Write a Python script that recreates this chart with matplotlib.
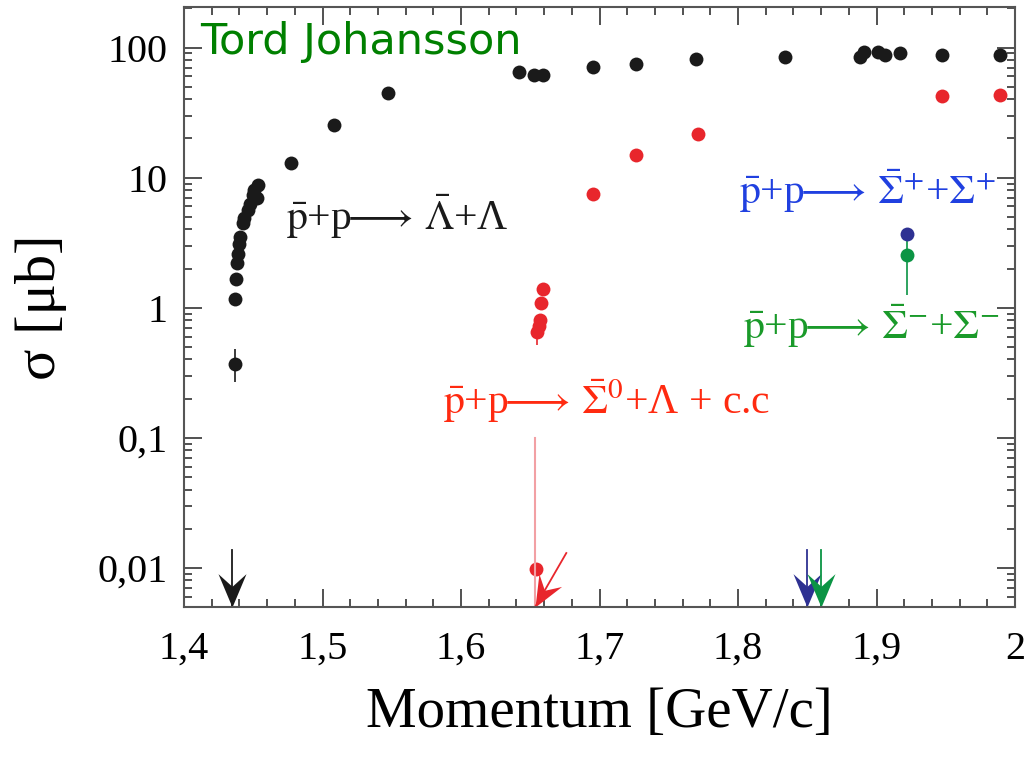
import numpy as np
import matplotlib.pyplot as plt
from matplotlib.ticker import LogLocator, MultipleLocator, FuncFormatter, NullFormatter

plt.rcParams['font.family'] = ['Liberation Serif', 'DejaVu Sans']
plt.rcParams['mathtext.fontset'] = 'stix'

# p-bar p -> Lambda-bar Lambda (black)
lam_x = [1.4367, 1.4367, 1.4374, 1.4381, 1.4388, 1.4395, 1.4403, 1.4424, 1.4431, 1.4460,
         1.4474, 1.4496, 1.4504, 1.4532, 1.4525, 1.4770, 1.5080, 1.5470, 1.6420, 1.6530,
         1.6590, 1.6950, 1.7260, 1.7700, 1.8340, 1.8880, 1.8910, 1.9010, 1.9060, 1.9170,
         1.9470, 1.9890]
lam_y = [0.37, 1.17, 1.65, 2.2, 2.6, 3.1, 3.5, 4.5, 4.9, 5.6,
         6.3, 7.3, 8.1, 8.8, 7.0, 13.0, 25.5, 45.0, 65.0, 62.0,
         61.0, 71.0, 75.0, 82.0, 84.0, 84.0, 93.0, 92.0, 87.0, 90.0,
         87.0, 88.0]

# p-bar p -> Sigma0-bar Lambda + c.c. (red)
sig0_x = [1.6540, 1.6550, 1.6560, 1.6570, 1.6580, 1.6590, 1.6950, 1.7260, 1.7710, 1.9470, 1.9890]
sig0_y = [0.0098, 0.65, 0.72, 0.80, 1.09, 1.40, 7.5, 14.8, 21.8, 42.7, 43.5]

# p-bar p -> Sigma+-bar Sigma+ (blue), Sigma- (green)
sigp_x, sigp_y = [1.922], [3.7]
sigm_x, sigm_y = [1.922], [2.55]
sigm_err_lo, sigm_err_hi = [1.3], [1.1]

# reaction thresholds (arrows)
thr_x = [1.4345, 1.6535, 1.8496, 1.8597]

black = '#1a1a1a'
red = '#e8262c'
navy = '#2e3192'
green = '#0b9444'

fig = plt.figure(figsize=(10.26, 7.6), dpi=100)
ax = fig.add_axes([0.1794, 0.2013, 0.8099, 0.7895])

ax.set_yscale('log')
ax.set_xlim(1.4, 2.0)
ax.set_ylim(0.005, 205)

# error bars
ax.errorbar([lam_x[0]], [lam_y[0]], yerr=[[0.10], [0.11]], fmt='none', ecolor=black, elinewidth=1.2)
ax.errorbar([sig0_x[1]], [sig0_y[1]], yerr=[[0.13], [0.0]], fmt='none', ecolor=red, elinewidth=1.2)
ax.errorbar(sigm_x, sigm_y, yerr=[sigm_err_lo, sigm_err_hi], fmt='none', ecolor=green, elinewidth=1.2)

ax.plot(lam_x, lam_y, 'o', color=black, ms=10, mec='none')
ax.plot(sig0_x, sig0_y, 'o', color=red, ms=10, mec='none')
ax.plot(sigp_x, sigp_y, 'o', color=navy, ms=10, mec='none')
ax.plot(sigm_x, sigm_y, 'o', color=green, ms=10, mec='none')

# arrow heads as custom markers, tip at the data point
head = np.array([[0, 0], [-0.42, 1], [0, 0.62], [0.42, 1], [0, 0]])
ybot = 0.005
for xt, c in zip([thr_x[0], thr_x[2], thr_x[3]], [black, navy, green]):
    ax.plot([xt, xt], [ybot, 0.0138], color=c, lw=1.3)
    ax.plot([xt], [ybot], marker=head, color=c, ms=48, mec='none')

# red: light vertical line + slanted arrow
ax.plot([thr_x[1], thr_x[1]], [ybot, 0.1], color='#f2a0a4', lw=1.5)
ang = np.deg2rad(-29.5)
rot = np.array([[np.cos(ang), -np.sin(ang)], [np.sin(ang), np.cos(ang)]])
head_r = head @ rot.T
ax.plot([thr_x[1], 1.676], [ybot, 0.0130], color=red, lw=1.3)
ax.plot([thr_x[1]], [ybot], marker=head_r, color=red, ms=48, mec='none')

# ticks
ax.xaxis.set_major_locator(MultipleLocator(0.1))
ax.xaxis.set_minor_locator(MultipleLocator(0.02))
ax.yaxis.set_major_locator(LogLocator(base=10, numticks=10))
ax.yaxis.set_minor_locator(LogLocator(base=10, subs=np.arange(2, 10), numticks=20))
ax.yaxis.set_minor_formatter(NullFormatter())

def comma(v, pos):
    s = ('%g' % v)
    return s.replace('.', ',')

ax.xaxis.set_major_formatter(FuncFormatter(comma))
ax.yaxis.set_major_formatter(FuncFormatter(comma))

ax.tick_params(which='both', direction='in', top=True, right=True, color='#333333', width=1.2)
ax.tick_params(which='major', length=13, labelsize=29)
ax.tick_params(which='minor', length=6)
ax.tick_params(axis='x', which='major', pad=17)
ax.tick_params(axis='y', which='major', pad=12)
for sp in ax.spines.values():
    sp.set_color('#555555')
    sp.set_linewidth(1.5)

ax.set_xlabel('Momentum [GeV/c]', fontsize=41, labelpad=14)
ax.set_ylabel('σ [μb]', fontsize=42, labelpad=22)

# reaction labels
arrow = r'$\!\!\longrightarrow\!$ '
ax.text(1.4735, 5.0, r'$\bar{\mathrm{p}}$+p' + arrow + r'$\bar{\Lambda}$+Λ',
        fontsize=30, color=black, va='center', ha='left')
ax.text(1.587, 0.19, r'$\bar{\mathrm{p}}$+p' + arrow + r'$\bar{\Sigma}^{0}$+Λ + c.c',
        fontsize=30, color='#ff2a10', va='center', ha='left')
ax.text(1.8005, 7.8, r'$\bar{\mathrm{p}}$+p' + arrow + r'$\bar{\Sigma}^{+}$+$\Sigma^{+}$',
        fontsize=30, color='#2040e0', va='center', ha='left')
ax.text(1.8035, 0.72, r'$\bar{\mathrm{p}}$+p' + arrow + r'$\bar{\Sigma}^{-}$+$\Sigma^{-}$',
        fontsize=30, color='#1a9a2a', va='center', ha='left')

fig.text(0.195, 0.945, 'Tord Johansson', fontsize=31, color='#008000',
         family='DejaVu Sans', va='center', ha='left')

fig.savefig('out.png', dpi=100)
